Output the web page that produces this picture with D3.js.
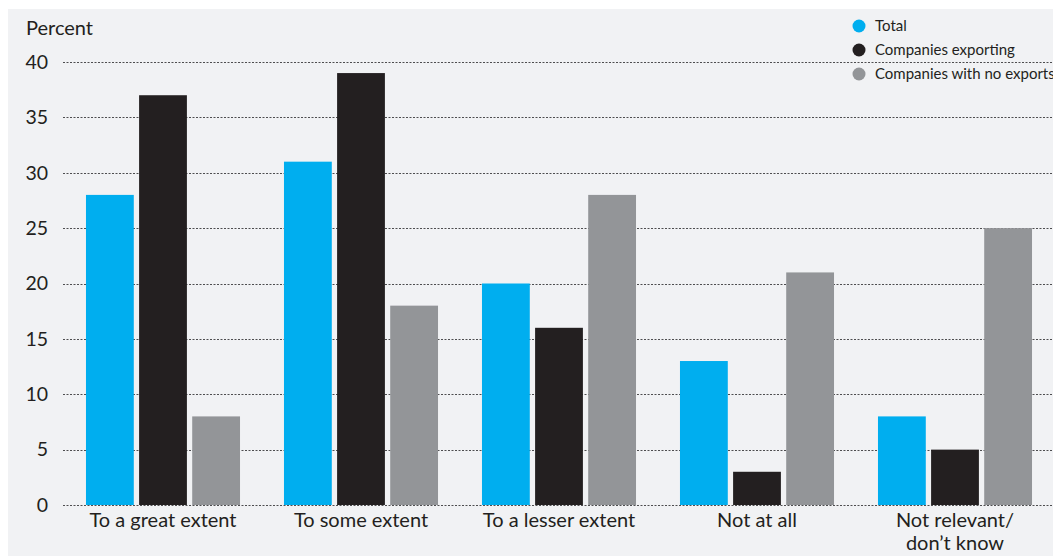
<!DOCTYPE html>
<html>
<head>
<meta charset="utf-8">
<style>
  body { margin: 0; background: #ffffff; }
  svg { display: block; font-family: Lato, "Open Sans", sans-serif; }
</style>
</head>
<body>
<div id="chart"></div>
<script src="https://d3js.org/d3.v7.min.js"></script>
<script>

// categories and series
var categories = ["To a great extent", "To some extent", "To a lesser extent", "Not at all", "Not relevant/\ndon\u2019t know"];
var seriesNames = ["Total", "Companies exporting", "Companies with no exports"];
var total = [28, 31, 20, 13, 8];
var exporting = [37, 39, 16, 3, 5];
var noExports = [8, 18, 28, 21, 25];
var yTicks = [0, 5, 10, 15, 20, 25, 30, 35, 40];
var colors = ["#00aeef", "#231f20", "#939598"];

var W = 1053, H = 556;
var margin = {top: 62, right: -1, bottom: 51, left: 64};

var svg = d3.select("#chart").append("svg")
    .attr("width", W)
    .attr("height", H);

// grey panel
svg.append("rect")
    .attr("x", 8).attr("y", 9)
    .attr("width", W - 8).attr("height", H - 9)
    .attr("fill", "#f1f2f4");

var data = categories.map(function(c, i) {
  return {cat: c, values: [total[i], exporting[i], noExports[i]]};
});

var x = d3.scaleBand()
    .domain(categories)
    .range([margin.left, W - margin.right])
    .paddingInner(0.222)
    .paddingOuter(0.111);

var xSub = d3.scaleBand()
    .domain(d3.range(seriesNames.length))
    .range([0, x.bandwidth()])
    .paddingInner(0.1);

var y = d3.scaleLinear()
    .domain([0, 40])
    .range([H - margin.bottom, margin.top]);

// gridlines
svg.append("g")
  .selectAll("line")
  .data(yTicks)
  .enter()
  .append("line")
    .attr("x1", margin.left - 1)
    .attr("x2", W)
    .attr("y1", function(d){ return Math.round(y(d)) + 0.5 })
    .attr("y2", function(d){ return Math.round(y(d)) + 0.5 })
    .attr("stroke", "#4d4d4f")
    .attr("stroke-width", 1)
    .attr("stroke-dasharray", "2,1.5");

// y tick labels
svg.append("g")
  .selectAll("text")
  .data(yTicks)
  .enter()
  .append("text")
    .attr("x", 48)
    .attr("y", function(d){ return y(d) })
    .attr("dy", "0.35em")
    .attr("text-anchor", "end")
    .attr("font-size", 19.5)
    .attr("fill", "#231f20")
    .text(function(d){ return d });

svg.append("text")
    .attr("x", 26).attr("y", 35)
    .attr("font-size", 20)
    .attr("fill", "#231f20")
    .text("Percent");

// bars
var groups = svg.append("g")
  .selectAll("g")
  .data(data)
  .enter()
  .append("g")
    .attr("transform", function(d){ return "translate(" + x(d.cat) + ",0)" });

groups.selectAll("rect")
  .data(function(d){ return d.values })
  .enter()
  .append("rect")
    .attr("x", function(d, i){ return xSub(i) })
    .attr("width", xSub.bandwidth())
    .attr("y", function(d){ return y(d) })
    .attr("height", function(d){ return y(0) - y(d) })
    .attr("fill", function(d, i){ return colors[i] });

// category labels
var labels = svg.append("g")
  .selectAll("text")
  .data(categories)
  .enter()
  .append("text")
    .attr("x", function(d){ return x(d) + x.bandwidth() / 2 })
    .attr("y", 527)
    .attr("text-anchor", "middle")
    .attr("font-size", 20)
    .attr("fill", "#231f20");

labels.selectAll("tspan")
  .data(function(d){ return d.split("\n") })
  .enter()
  .append("tspan")
    .attr("x", function(){ return d3.select(this.parentNode).attr("x") })
    .attr("dy", function(d, i){ return i === 0 ? 0 : 23 })
    .text(function(d){ return d });

// legend
var legend = svg.append("g")
  .selectAll("g")
  .data(seriesNames)
  .enter()
  .append("g")
    .attr("transform", function(d, i){ return "translate(859," + (26 + i * 24) + ")" });

legend.append("circle")
    .attr("r", 6.5)
    .attr("fill", function(d, i){ return colors[i] });

legend.append("text")
    .attr("x", 16)
    .attr("dy", "0.35em")
    .attr("font-size", 15)
    .attr("fill", "#231f20")
    .text(function(d){ return d });

</script>
</body>
</html>
